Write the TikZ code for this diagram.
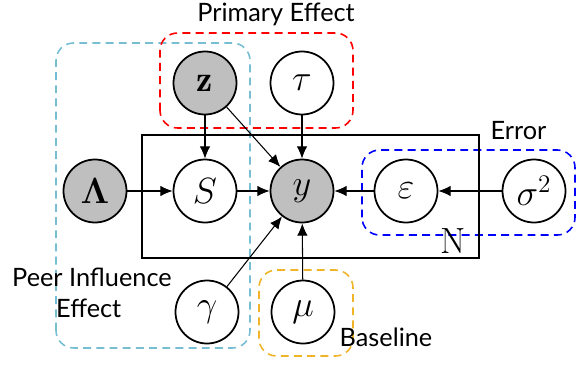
\documentclass[tikz,border=0pt]{standalone}
\usepackage{amsmath}
\usepackage{fontspec}
\setsansfont{Lato}
\usetikzlibrary{arrows.meta}

\definecolor{peerblue}{RGB}{120,190,210}
\definecolor{baseorange}{RGB}{240,180,40}
\tikzset{
  var/.style={circle, draw, fill=white, line width=1pt, minimum size=1.26cm, inner sep=0pt, font=\huge},
  obs/.style={var, fill=black!25},
  edge/.style={-{Latex[length=7pt,width=6pt]}, line width=0.6pt},
  group/.style={rounded corners=10pt, dash pattern=on 4.5pt off 3pt, line width=0.9pt},
}

\begin{document}
\begin{tikzpicture}[font=\sffamily\Large]
  \useasboundingbox (0,0) rectangle (11.52,7.32);

  % Dashed groups
  \draw[group, peerblue] (1.12,0.36) rectangle (5.00,6.46); % Peer influence
  \draw[group, red] (3.20,4.76) rectangle (7.06,6.66); % Primary
  \draw[group, blue] (7.24,2.62) rectangle (11.50,4.32); % Error
  \draw[group, baseorange] (5.18,0.20) rectangle (7.06,1.92); % Baseline

  % Plate
  \draw[line width=1.6pt] (2.84,2.16) rectangle (9.58,4.62);
  \node[font=\rmfamily\huge] (plateN) at (9.06,2.50) {N};

  % Variables
  \node[obs] (z) at (4.10,5.66) {$\mathbf{z}$};
  \node[var] (tau) at (6.04,5.66) {$\tau$};
  \node[obs] (Lam) at (1.90,3.50) {$\boldsymbol{\Lambda}$};
  \node[var] (S) at (4.10,3.50) {$S$};
  \node[obs] (y) at (6.04,3.50) {$y$};
  \node[var] (eps) at (8.12,3.50) {$\varepsilon$};
  \node[var] (sig) at (10.68,3.50) {$\sigma^2$};
  \node[var] (gam) at (4.14,1.08) {$\gamma$};
  \node[var] (mu) at (6.06,1.08) {$\mu$};

  % Edges
  \foreach \A/\B in {z/S, z/y, tau/y, Lam/S, S/y, eps/y, sig/eps, gam/y, mu/y} {
    \draw[edge] (\A) -- (\B);
  }

  % Labels
  \node (lblPrimary) at (5.52,7.04) {Primary Effect};
  \node (lblError) at (10.37,4.70) {Error};
  \node[anchor=west] (lblPeer) at (0.12,1.78) {Peer Influence};
  \node[anchor=west] (lblEffect) at (1.00,1.16) {Effect};
  \node (lblBase) at (7.72,0.58) {Baseline};

\end{tikzpicture}
\end{document}
